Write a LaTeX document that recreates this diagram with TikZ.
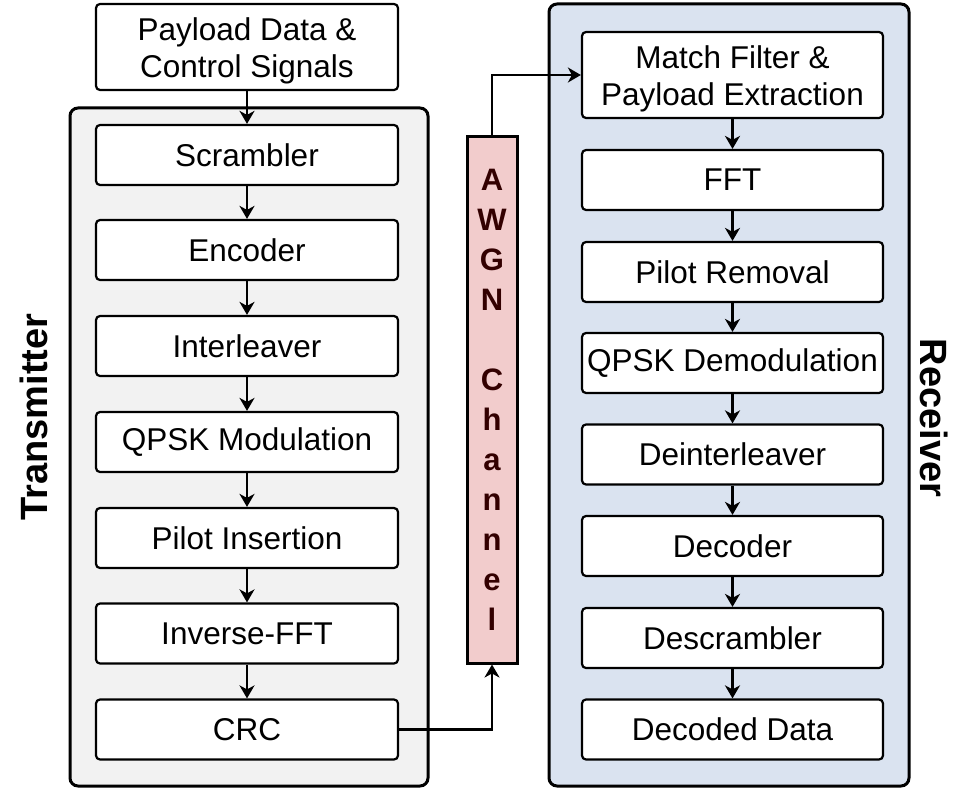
\documentclass[tikz,border=0pt]{standalone}
\usepackage{fontspec}
\setmainfont{Liberation Sans}
\usetikzlibrary{arrows.meta,positioning}
\definecolor{txfill}{HTML}{F2F2F2}
\definecolor{rxfill}{HTML}{DAE3F0}
\definecolor{chfill}{HTML}{F2CCCC}
\definecolor{chtext}{HTML}{330000}
\newcommand{\toppad}{\rule{0pt}{30pt}}
\tikzset{
  blockbox/.style={draw=black, line width=2.2pt, fill=white, rounded corners=4pt,
    minimum height=60pt, inner sep=0pt, align=center,
    font=\fontsize{31.5}{37}\selectfont},
  groupbox/.style={draw=black, line width=3pt, rounded corners=8pt},
  flow/.style={line width=2.5pt, -{Stealth[length=13pt,width=15pt,inset=4pt]}},
  sidelabel/.style={font=\fontsize{38}{40}\selectfont\bfseries, inner sep=0pt}
}
\begin{document}
\begin{tikzpicture}[x=1pt,y=-1pt]
\useasboundingbox (0,0) rectangle (974,789);
% groups
\draw[groupbox, fill=txfill] (70,108) rectangle (428,786);
\draw[groupbox, fill=rxfill] (549,4) rectangle (909,786);
% transmitter side
\node[blockbox, minimum width=302pt, minimum height=86pt] (src) at (247,47) {\toppad Payload Data \&\\Control Signals};
\node[blockbox, minimum width=302pt] (scr) at (247,155) {Scrambler};
\node[blockbox, minimum width=302pt] (enc) at (247,250) {Encoder};
\node[blockbox, minimum width=302pt] (itl) at (247,346) {Interleaver};
\node[blockbox, minimum width=302pt] (mod) at (247,442) {QPSK Modulation};
\node[blockbox, minimum width=302pt] (pil) at (247,538) {Pilot Insertion};
\node[blockbox, minimum width=302pt] (ifft) at (247,633.5) {Inverse-FFT};
\node[blockbox, minimum width=302pt] (crc) at (247,729.5) {CRC};
% channel
\node[draw=black, line width=3pt, fill=chfill, minimum width=50pt, minimum height=526pt,
  inner sep=0pt, align=center, text=chtext,
  font=\fontsize{31}{40}\selectfont\bfseries] (awgn) at (492,400)
  {A\\W\\G\\N\\[40pt]C\\h\\a\\n\\n\\e\\l};
% receiver side
\node[blockbox, minimum width=301pt, minimum height=86pt] (mf) at (732.5,75) {\toppad Match Filter \&\\Payload Extraction};
\node[blockbox, minimum width=301pt] (fft) at (732.5,180) {FFT};
\node[blockbox, minimum width=301pt] (prm) at (732.5,272) {Pilot Removal};
\node[blockbox, minimum width=301pt] (dem) at (732.5,363) {QPSK Demodulation};
\node[blockbox, minimum width=301pt] (dil) at (732.5,454.5) {Deinterleaver};
\node[blockbox, minimum width=301pt] (dec) at (732.5,546) {Decoder};
\node[blockbox, minimum width=301pt] (dsc) at (732.5,638) {Descrambler};
\node[blockbox, minimum width=301pt] (out) at (732.5,729.5) {Decoded Data};
% side labels
\node[sidelabel, rotate=90] (txl) at (34,417) {Transmitter};
\node[sidelabel, rotate=-90] (rxl) at (934,418) {Receiver};
% connectors
\draw[flow] (src) -- (scr);
\draw[flow] (scr) -- (enc);
\draw[flow] (enc) -- (itl);
\draw[flow] (itl) -- (mod);
\draw[flow] (mod) -- (pil);
\draw[flow] (pil) -- (ifft);
\draw[flow] (ifft) -- (crc);
\draw[flow] (crc.east) -| (awgn.south);
\draw[flow] (awgn.north) |- (mf.west);
\draw[flow] (mf) -- (fft);
\draw[flow] (fft) -- (prm);
\draw[flow] (prm) -- (dem);
\draw[flow] (dem) -- (dil);
\draw[flow] (dil) -- (dec);
\draw[flow] (dec) -- (dsc);
\draw[flow] (dsc) -- (out);
\end{tikzpicture}
\end{document}
